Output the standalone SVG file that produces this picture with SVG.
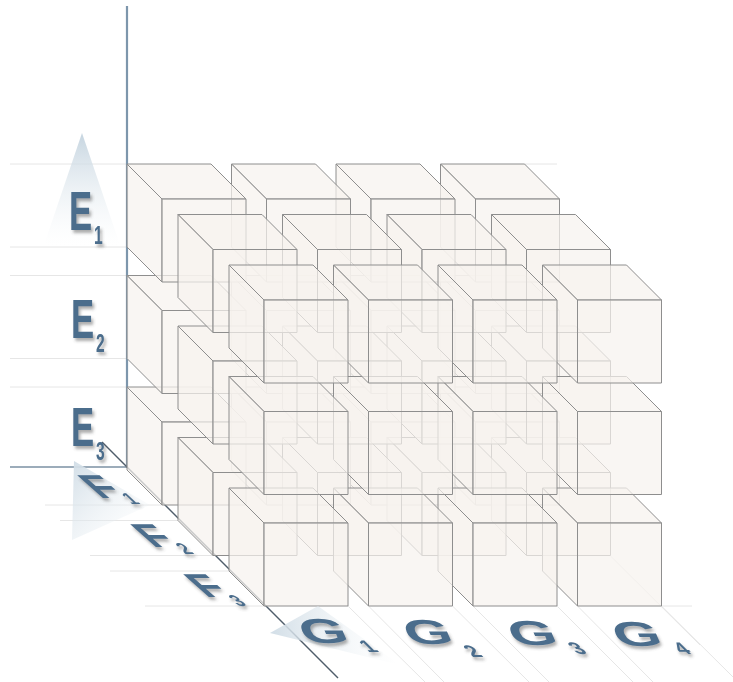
<svg xmlns="http://www.w3.org/2000/svg" xmlns:xlink="http://www.w3.org/1999/xlink" width="733" height="682" viewBox="0 0 733 682">
<defs>
<style>
.fc{fill:#f6f3ef;fill-opacity:.72;stroke:#8e8e8e;stroke-width:1;stroke-linejoin:round}
.gd{stroke:#e6e6e6;stroke-width:1;fill:none}
.lbl{font-family:"Liberation Sans",Arial,sans-serif;font-weight:bold;fill:#4b6d8c}
</style>
<filter id="sh" x="-40%" y="-40%" width="180%" height="180%">
<feDropShadow dx="2" dy="3" stdDeviation="1.6" flood-color="#4a4a4a" flood-opacity="0.45"/>
</filter>
<linearGradient id="gE" x1="0" y1="0" x2="0" y2="1">
<stop offset="0" stop-color="#c6d5e0"/>
<stop offset="1" stop-color="#eef3f6" stop-opacity="0"/>
</linearGradient>
<linearGradient id="gF" x1="0" y1="0" x2="1" y2="1">
<stop offset="0" stop-color="#d2dee7"/>
<stop offset="1" stop-color="#f2f6f8" stop-opacity="0"/>
</linearGradient>
<linearGradient id="gG" x1="0" y1="0" x2="1" y2="0">
<stop offset="0" stop-color="#d2dee7"/>
<stop offset="1" stop-color="#f2f6f8" stop-opacity="0"/>
</linearGradient>
<g id="cube">
<polygon class="fc" points="0,0 -35,-35 49,-35 84,0"/>
<polygon class="fc" points="0,0 -35,-35 -35,48 0,83"/>
<rect class="fc" x="0" y="0" width="84" height="83"/>
</g>
</defs>
<rect width="733" height="682" fill="#ffffff"/>

<g id="guides">
<line class="gd" x1="10" y1="164" x2="127" y2="164"/>
<line class="gd" x1="10" y1="247" x2="127" y2="247"/>
<line class="gd" x1="10" y1="275.5" x2="127" y2="275.5"/>
<line class="gd" x1="10" y1="358.5" x2="127" y2="358.5"/>
<line class="gd" x1="10" y1="387" x2="127" y2="387"/>
<line class="gd" x1="45" y1="505" x2="162" y2="505"/>
<line class="gd" x1="60" y1="520.5" x2="178" y2="520.5"/>
<line class="gd" x1="90" y1="555.5" x2="213" y2="555.5"/>
<line class="gd" x1="110" y1="571" x2="229" y2="571"/>
<line class="gd" x1="145" y1="606" x2="264" y2="606"/>
<line class="gd" x1="524" y1="164" x2="557" y2="164"/>
<line class="gd" x1="661" y1="606" x2="692" y2="606"/>
<line class="gd" x1="348" y1="606" x2="425" y2="682"/>
<line class="gd" x1="368.5" y1="606" x2="444" y2="682"/>
<line class="gd" x1="452.5" y1="606" x2="529" y2="682"/>
<line class="gd" x1="473" y1="606" x2="549" y2="682"/>
<line class="gd" x1="557" y1="606" x2="633" y2="682"/>
<line class="gd" x1="577.5" y1="606" x2="653" y2="682"/>
<line class="gd" x1="661.5" y1="606" x2="733" y2="677"/>
<line class="gd" x1="610.5" y1="556" x2="700" y2="645"/>
</g>

<g id="connectors">
<line x1="127" y1="6" x2="127" y2="468" stroke="#7d96ac" stroke-width="2.2"/>
<line x1="10" y1="467" x2="127" y2="467" stroke="#7b90a3" stroke-width="1.6"/>
<line x1="102" y1="442" x2="338" y2="678" stroke="#4f5d6a" stroke-width="1.4"/>
</g>

<g id="cubes-f1">
<g id="e3-f1-g4"><use xlink:href="#cube" x="475.5" y="422"/></g>
<g id="e3-f1-g3"><use xlink:href="#cube" x="371" y="422"/></g>
<g id="e3-f1-g2"><use xlink:href="#cube" x="266.5" y="422"/></g>
<g id="e3-f1-g1"><use xlink:href="#cube" x="162" y="422"/></g>
<g id="e2-f1-g4"><use xlink:href="#cube" x="475.5" y="310.5"/></g>
<g id="e2-f1-g3"><use xlink:href="#cube" x="371" y="310.5"/></g>
<g id="e2-f1-g2"><use xlink:href="#cube" x="266.5" y="310.5"/></g>
<g id="e2-f1-g1"><use xlink:href="#cube" x="162" y="310.5"/></g>
<g id="e1-f1-g4"><use xlink:href="#cube" x="475.5" y="199"/></g>
<g id="e1-f1-g3"><use xlink:href="#cube" x="371" y="199"/></g>
<g id="e1-f1-g2"><use xlink:href="#cube" x="266.5" y="199"/></g>
<g id="e1-f1-g1"><use xlink:href="#cube" x="162" y="199"/></g>
</g>
<g id="cubes-f2">
<g id="e3-f2-g4"><use xlink:href="#cube" x="526.5" y="472.5"/></g>
<g id="e3-f2-g3"><use xlink:href="#cube" x="422" y="472.5"/></g>
<g id="e3-f2-g2"><use xlink:href="#cube" x="317.5" y="472.5"/></g>
<g id="e3-f2-g1"><use xlink:href="#cube" x="213" y="472.5"/></g>
<g id="e2-f2-g4"><use xlink:href="#cube" x="526.5" y="361"/></g>
<g id="e2-f2-g3"><use xlink:href="#cube" x="422" y="361"/></g>
<g id="e2-f2-g2"><use xlink:href="#cube" x="317.5" y="361"/></g>
<g id="e2-f2-g1"><use xlink:href="#cube" x="213" y="361"/></g>
<g id="e1-f2-g4"><use xlink:href="#cube" x="526.5" y="249.5"/></g>
<g id="e1-f2-g3"><use xlink:href="#cube" x="422" y="249.5"/></g>
<g id="e1-f2-g2"><use xlink:href="#cube" x="317.5" y="249.5"/></g>
<g id="e1-f2-g1"><use xlink:href="#cube" x="213" y="249.5"/></g>
</g>
<g id="cubes-f3">
<g id="e3-f3-g4"><use xlink:href="#cube" x="577.5" y="523"/></g>
<g id="e3-f3-g3"><use xlink:href="#cube" x="473" y="523"/></g>
<g id="e3-f3-g2"><use xlink:href="#cube" x="368.5" y="523"/></g>
<g id="e3-f3-g1"><use xlink:href="#cube" x="264" y="523"/></g>
<g id="e2-f3-g4"><use xlink:href="#cube" x="577.5" y="411.5"/></g>
<g id="e2-f3-g3"><use xlink:href="#cube" x="473" y="411.5"/></g>
<g id="e2-f3-g2"><use xlink:href="#cube" x="368.5" y="411.5"/></g>
<g id="e2-f3-g1"><use xlink:href="#cube" x="264" y="411.5"/></g>
<g id="e1-f3-g4"><use xlink:href="#cube" x="577.5" y="300"/></g>
<g id="e1-f3-g3"><use xlink:href="#cube" x="473" y="300"/></g>
<g id="e1-f3-g2"><use xlink:href="#cube" x="368.5" y="300"/></g>
<g id="e1-f3-g1"><use xlink:href="#cube" x="264" y="300"/></g>
</g>

<g id="axis-e">
<polygon points="82,133 44,245 120,245" fill="url(#gE)"/>
<g filter="url(#sh)">
<text class="lbl" font-size="56" transform="translate(69,230) scale(0.62,1)">E</text>
<text class="lbl" font-size="26" transform="translate(94,244) scale(0.6,1)">1</text>
<text class="lbl" font-size="56" transform="translate(71,338) scale(0.62,1)">E</text>
<text class="lbl" font-size="26" transform="translate(96,352) scale(0.6,1)">2</text>
<text class="lbl" font-size="56" transform="translate(71,446) scale(0.62,1)">E</text>
<text class="lbl" font-size="26" transform="translate(96,460) scale(0.6,1)">3</text>
</g>
</g>

<g id="axis-f">
<polygon points="74,461 150,505 72,540" fill="url(#gF)"/>
<g filter="url(#sh)">
<text class="lbl" font-size="44" transform="translate(100,498) matrix(1,0,0.85,0.75,0,0)">F</text>
<text class="lbl" font-size="24" transform="translate(131,504) matrix(0.75,0,0.7,0.65,0,0)">1</text>
<text class="lbl" font-size="44" transform="translate(153,547) matrix(1,0,0.85,0.75,0,0)">F</text>
<text class="lbl" font-size="24" transform="translate(185,554) matrix(0.75,0,0.7,0.65,0,0)">2</text>
<text class="lbl" font-size="44" transform="translate(206,597) matrix(1,0,0.85,0.75,0,0)">F</text>
<text class="lbl" font-size="24" transform="translate(238,606) matrix(0.75,0,0.7,0.65,0,0)">3</text>
</g>
</g>

<g id="axis-g">
<polygon points="270,633 318,606 400,665" fill="url(#gG)"/>
<g filter="url(#sh)">
<text class="lbl" font-size="60" transform="translate(305,643) matrix(1,0,0.25,0.58,0,0)">G</text>
<text class="lbl" font-size="28" transform="translate(368,652) matrix(0.75,0,0.6,0.6,0,0)">1</text>
<text class="lbl" font-size="60" transform="translate(409.5,644) matrix(1,0,0.25,0.58,0,0)">G</text>
<text class="lbl" font-size="28" transform="translate(472.5,657) matrix(0.75,0,0.6,0.6,0,0)">2</text>
<text class="lbl" font-size="60" transform="translate(514,645) matrix(1,0,0.25,0.58,0,0)">G</text>
<text class="lbl" font-size="28" transform="translate(577,654) matrix(0.75,0,0.6,0.6,0,0)">3</text>
<text class="lbl" font-size="60" transform="translate(618.5,646) matrix(1,0,0.25,0.58,0,0)">G</text>
<text class="lbl" font-size="28" transform="translate(681.5,654) matrix(0.75,0,0.6,0.6,0,0)">4</text>
</g>
</g>
</svg>
